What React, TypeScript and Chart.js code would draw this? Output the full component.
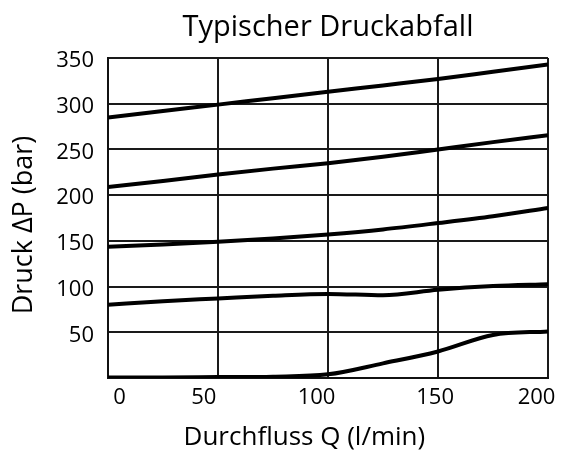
import React, { useEffect, useRef } from "react";
import { Chart, registerables } from "chart.js";

Chart.register(...registerables);

const flowQ = [0, 25, 50, 75, 100, 125, 150, 175, 200];
const curve1 = [285, 292, 299, 306, 313, 320, 327, 335, 343];
const curve2 = [209, 215.5, 222.5, 229, 235, 242, 250, 258, 265.5];
const curve3 = [143.5, 146, 149, 152.5, 157, 162.5, 169.5, 177, 186];
const curve4 = [80, 84, 87, 90, 92, 90.5, 96.5, 100.5, 102.5];
const curve5 = [0.5, 0.5, 1, 1.5, 4, 16, 29, 47, 51];
const xTicks = [0, 50, 100, 150, 200];
const yTicks = [50, 100, 150, 200, 250, 300, 350];

const FONT = "'Open Sans', sans-serif";
const NB = "\u00A0";
// label nudges (in non-breaking spaces) reproducing the reference's slightly off-centre x labels
const xLead: Record<number, number> = { 0: 4, 50: 0, 100: 0, 150: 0, 200: 0 };
const xTrail: Record<number, number> = { 0: 0, 50: 5, 100: 4, 150: 1, 200: 4 };

export default function App() {
  const ref = useRef<HTMLCanvasElement | null>(null);
  useEffect(() => {
    document.body.style.margin = "0";
    const ctx = ref.current!;
    const series = [curve1, curve2, curve3, curve4, curve5];
    const chart = new Chart(ctx, {
      type: "line",
      data: {
        datasets: series.map((s) => ({
          data: s.map((v, i) => ({ x: flowQ[i], y: v })),
          borderColor: "#000",
          borderWidth: 4,
          pointRadius: 0,
          tension: 0.4,
          cubicInterpolationMode: "monotone" as const,
          fill: false,
        })),
      },
      options: {
        animation: false,
        responsive: false,
        layout: { padding: { left: 0, right: 16, top: 0, bottom: 0 } },
        plugins: {
          legend: { display: false },
          tooltip: { enabled: false },
          title: {
            display: true,
            fullSize: false,
            text: "Typischer Druckabfall",
            color: "#000",
            font: { family: FONT, size: 29, weight: "normal" },
            padding: { top: 10.6, bottom: 12.6 },
          },
        },
        scales: {
          x: {
            type: "linear",
            min: 0,
            max: 200,
            afterBuildTicks: (s: any) => {
              s.ticks = xTicks.map((v) => ({ value: v }));
            },
            afterFit: (s: any) => {
              s.height = 77;
              s.paddingLeft = 0;
              s.paddingRight = 0;
            },
            ticks: {
              color: "#000",
              font: { family: FONT, size: 22 },
              padding: 7,
              maxRotation: 0,
              callback: (v: any) =>
                NB.repeat(xLead[v] ?? 0) + String(v) + NB.repeat(xTrail[v] ?? 0),
            },
            grid: { color: "#1a1a1a", lineWidth: 2, drawTicks: false },
            border: { color: "#111", width: 2 },
            title: {
              display: true,
              text: "Durchfluss Q (l/min)" + NB.repeat(7),
              color: "#000",
              font: { family: FONT, size: 26 },
              padding: { top: 2, bottom: 2 },
            },
          },
          y: {
            type: "linear",
            min: 0,
            max: 350,
            afterBuildTicks: (s: any) => {
              s.ticks = [0, ...yTicks].map((v) => ({ value: v }));
            },
            afterFit: (s: any) => {
              s.width = 108;
              s.paddingTop = 0;
              s.paddingBottom = 0;
            },
            ticks: {
              color: "#000",
              font: { family: FONT, size: 22 },
              padding: 14,
              labelOffset: 3,
              callback: (v: any) => (v === 0 ? "" : String(v)),
            },
            grid: { color: "#1a1a1a", lineWidth: 2, drawTicks: false },
            border: { color: "#111", width: 2 },
            title: {
              display: true,
              text: "Druck ΔP (bar)" + NB.repeat(2),
              color: "#000",
              font: { family: FONT, size: 27 },
              padding: { top: 8, bottom: 8 },
            },
          },
        },
      },
    });
    return () => chart.destroy();
  }, []);
  return (
    <div style={{ width: 564, height: 455 }}>
      <canvas ref={ref} width={564} height={455} />
    </div>
  );
}
